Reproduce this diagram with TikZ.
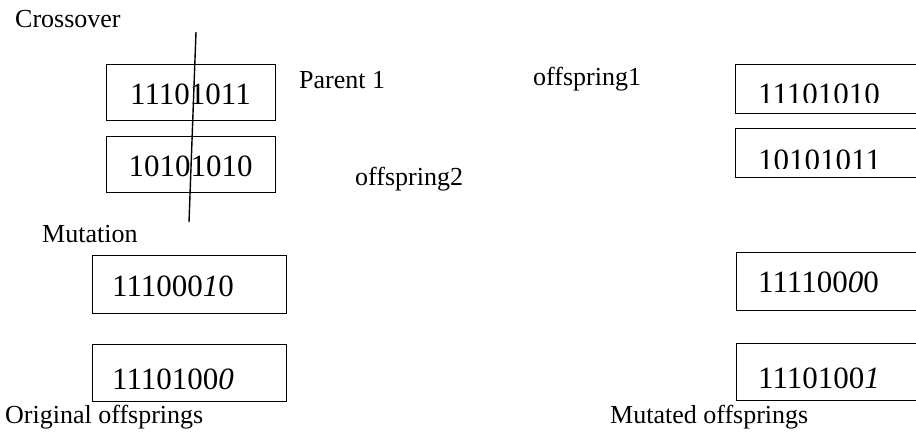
\documentclass[tikz,border=0pt]{standalone}
\usepackage{fontspec}
\setmainfont{Liberation Serif}
\begin{document}
\begin{tikzpicture}[x=1pt,y=-1pt,
  lbl/.style={anchor=base west,inner sep=0pt,font=\fontsize{26}{30}\selectfont},
  bits/.style={anchor=base west,inner sep=0pt,font=\fontsize{31}{36}\selectfont},
  bitsc/.style={anchor=base,inner sep=0pt,font=\fontsize{31}{36}\selectfont},
  gene/.style={draw,line width=1.4pt,rectangle,inner sep=0pt,anchor=north west}]
\useasboundingbox (0,0) rectangle (916,432);
\clip (0,0) rectangle (916,432);
% Crossover
\node[lbl] (crossLbl) at (15,27) {Crossover};
\node[gene,minimum width=169pt,minimum height=56pt] (p1box) at (106,64) {};
\node[gene,minimum width=169pt,minimum height=56pt] (p2box) at (106,136) {};
\node[bitsc] (p1txt) at (190.5,104) {11101011};
\node[bitsc] (p2txt) at (190.5,176) {10101010};
\coordinate (cutTop) at (196,32);
\coordinate (cutBot) at (189,222);
\draw[line width=1.4pt] (cutTop) -- (cutBot);
\node[lbl] (par1) at (299,88) {Parent 1};
\node[lbl] (off2) at (355,185) {offspring2};
\node[lbl] (off1) at (533,85) {offspring1};
% right crossover results
\node[gene,minimum width=220pt,minimum height=49pt] (o1box) at (735,64) {};
\node[gene,minimum width=220pt,minimum height=49pt] (o2box) at (735,128) {};
\begin{scope}
\clip (735,60) rectangle (916,102.5);
\node[bits] (o1txt) at (758,104.5) {11101010};
\end{scope}
\begin{scope}
\clip (735,130) rectangle (916,168.5);
\node[bits] (o2txt) at (758,170) {10101011};
\end{scope}
% Mutation
\node[lbl] (mutLbl) at (42,242) {Mutation};
\node[gene,minimum width=194pt,minimum height=58pt] (m1box) at (92,255) {};
\node[gene,minimum width=194pt,minimum height=57pt] (m2box) at (92,344) {};
\node[bits] (m1txt) at (112,296) {111000\textit{1}0};
\node[bits] (m2txt) at (112,389) {1110100\textit{0}};
\node[gene,minimum width=220pt,minimum height=58pt] (r1box) at (736,252) {};
\node[gene,minimum width=220pt,minimum height=57pt] (r2box) at (736,343) {};
\node[bits] (r1txt) at (758,292) {111100\textit{0}0};
\node[bits] (r2txt) at (758,388) {1110100\textit{1}};
\node[lbl] (origLbl) at (5,423) {Original offsprings};
\node[lbl] (mutdLbl) at (610,423) {Mutated offsprings};
\end{tikzpicture}
\end{document}
